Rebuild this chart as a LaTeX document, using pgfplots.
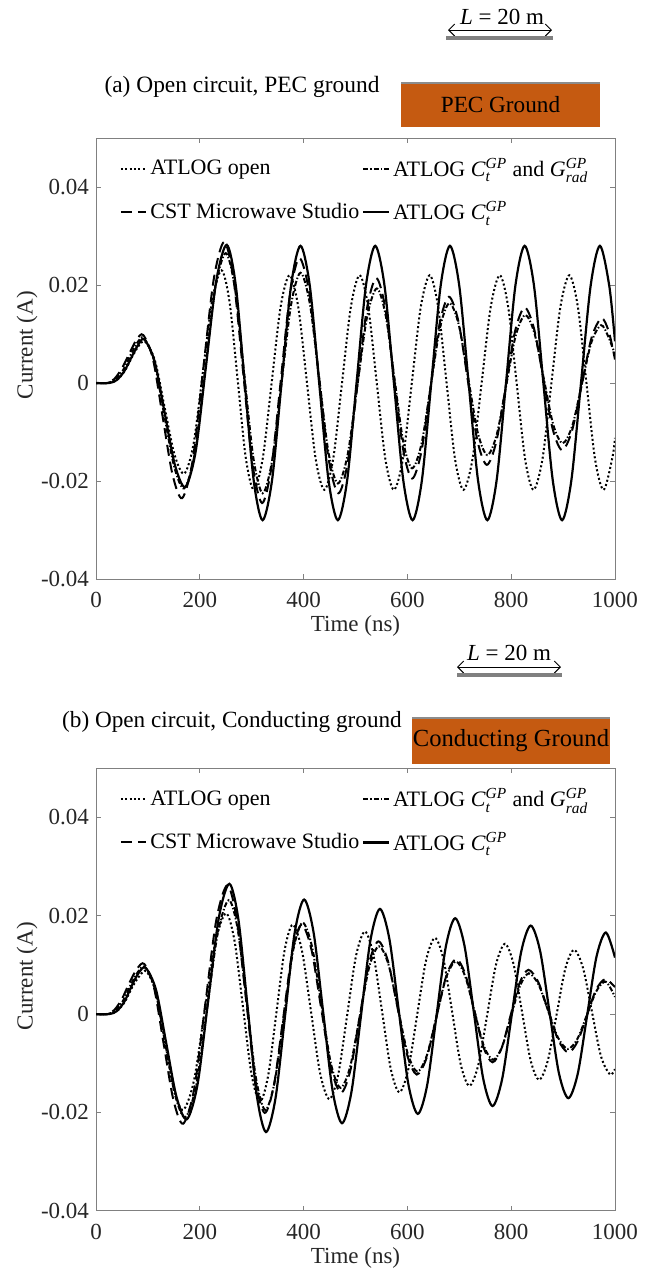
\documentclass[border=0pt]{standalone}
\usepackage{fontspec}
\setmainfont{Liberation Serif}
\usepackage{amsmath}
\usepackage{pgfplots}
\pgfplotsset{compat=1.18}
\usetikzlibrary{arrows.meta}
\definecolor{groundorange}{RGB}{197,90,17}

\pgfplotsset{
  myaxis/.style={
    scale only axis, width=259.5pt,
    xmin=0, xmax=1000, ymin=-0.04, ymax=0.05,
    scaled y ticks=false, scaled x ticks=false,
    xtick={0,200,400,600,800,1000},
    xticklabels={0,200,400,600,800,1000},
    ytick={-0.04,-0.02,0,0.02,0.04},
    yticklabels={-0.04,-0.02,0,0.02,0.04},
    tick align=inside, major tick length=2.5pt,
    axis line style={black!50}, every tick/.style={black!50},
    tick label style={font=\fontsize{11.5}{13.8}\selectfont, text=black!85},
    xticklabel style={yshift=-3pt},
    xlabel={Time (ns)}, ylabel={Current (A)},
    label style={font=\fontsize{11.5}{13.8}\selectfont, text=black!85},
    xlabel style={at={(axis description cs:0.5,0)}, anchor=center, yshift=-23.5pt},
    ylabel style={at={(axis description cs:0,0.53)}, anchor=center, yshift=34.5pt},
    legend columns=2,
    legend cell align=left,
    legend image code/.code={\draw[#1] (0cm,0cm) -- (0.45cm,0cm);},
    legend style={draw=none, fill=none, at={(axis description cs:0.5,1)}, anchor=north, yshift=-6pt,
      font=\fontsize{11}{13.2}\selectfont, row sep=7pt,
      nodes={inner xsep=1.5pt},
      /tikz/every even column/.append style={column sep=0pt}},
  },
  dotS/.style={black, line width=1pt, dash pattern=on 1pt off 1.2pt, smooth},
  dashdotS/.style={black, line width=1pt, dash pattern=on 2.5pt off 1pt on 0.7pt off 1pt, smooth},
  dashS/.style={black, line width=1pt, dash pattern=on 5.5pt off 3pt, smooth},
  solidS/.style={black, line width=1.1pt, solid, smooth},
}

\begin{document}
\begin{tikzpicture}
\useasboundingbox (0pt,0pt) rectangle (328pt,-635.5pt);

\begin{scope}[x=0.5pt,y=-0.5pt]
  % panel (a) annotations
  \node[font=\fontsize{11.5}{13.8}\selectfont] at (502,17) {\textit{L} = 20 m};
  \draw[line width=0.5pt, {Straight Barb[length=3pt,width=6pt]}-{Straight Barb[length=3pt,width=6pt]}] (448,30) -- (552,30);
  \draw[black!50, line width=2pt] (446,38) -- (553,38);
  \node[font=\fontsize{11.7}{14}\selectfont] at (242,87) {(a) Open circuit, PEC ground};
  \fill[groundorange] (401,83) rectangle (600,127);
  \draw[black!45, line width=1pt] (401,83) -- (600,83);
  \node[font=\fontsize{11.6}{14}\selectfont] at (500.5,105) {PEC Ground};
  % panel (b) annotations
  \node[font=\fontsize{11.5}{13.8}\selectfont] at (509,653) {\textit{L} = 20 m};
  \draw[line width=0.5pt, {Straight Barb[length=3pt,width=6pt]}-{Straight Barb[length=3pt,width=6pt]}] (457,667) -- (561,667);
  \draw[black!50, line width=2pt] (457,674.5) -- (562,674.5);
  \node[font=\fontsize{11.6}{14}\selectfont] at (232,722) {(b) Open circuit, Conducting ground};
  \fill[groundorange] (412,718) rectangle (610,764);
  \draw[black!45, line width=1pt] (412,718) -- (610,718);
  \node[font=\fontsize{12.3}{14.5}\selectfont] at (511,741) {Conducting Ground};
\end{scope}

% ---------------- panel (a)
\begin{axis}[myaxis, height=220.5pt, at={(48pt,-289.5pt)}, anchor=south west]
\addplot[dotS] coordinates {
(0,0)(25,0)(40,0.0006)(55,0.0024)(70,0.0054)(83,0.0077)(95,0.0084)
(113.75,0.0045)(132.5,-0.0051)(151.25,-0.0146)(170,-0.0185)
(188,-0.0124)(206,0.0023)(224,0.0169)(242,0.0230)
(257.5,0.0164)(273,0.0006)(288.5,-0.0152)(304,-0.0218)
(321.25,-0.0154)(338.5,0.0001)(355.75,0.0156)(373,0.0220)
(389.75,0.0155)(406.5,0)(423.25,-0.0155)(440,-0.0218)
(457,-0.0155)(474,0)(491,0.0155)(508,0.0220)
(524.5,0.0155)(541,0)(557.5,-0.0155)(574,-0.0218)
(591.25,-0.0155)(608.5,0)(625.75,0.0155)(643,0.0220)
(659.25,0.0155)(675.5,0)(691.75,-0.0155)(708,-0.0218)
(725.5,-0.0155)(743,0)(760.5,0.0155)(778,0.0220)
(794.25,0.0155)(810.5,0)(826.75,-0.0155)(843,-0.0218)
(860.25,-0.0155)(877.5,0)(894.75,0.0155)(912,0.0220)
(928.5,0.0155)(945,0)(961.5,-0.0155)(978,-0.0218)
(995,-0.0152)(1000,-0.0112)
};
\addlegendentry{ATLOG open}
\addplot[dashdotS] coordinates {
(0,0)(22,0)(37,0.0007)(52,0.0026)(67,0.0058)(80,0.0083)(92,0.0092)
(111.5,0.0047)(131,-0.0062)(150.5,-0.0170)(170,-0.0215)
(190,-0.0145)(210,0.0025)(230,0.0195)(250,0.0265)
(267.75,0.0193)(285.5,0.0020)(303.25,-0.0153)(321,-0.0225)
(339.25,-0.0159)(357.5,0)(375.75,0.0159)(394,0.0225)
(412,0.0162)(430,0.0010)(448,-0.0142)(466,-0.0205)
(484.75,-0.0147)(503.5,-0.0006)(522.25,0.0135)(541,0.0193)
(558,0.0139)(575,0.0010)(592,-0.0120)(609,-0.0174)
(627,-0.0125)(645,-0.0006)(663,0.0114)(681,0.0163)
(699.25,0.0118)(717.5,0.0008)(735.75,-0.0102)(754,-0.0147)
(772.25,-0.0105)(790.5,-0.0004)(808.75,0.0097)(827,0.0139)
(845,0.0101)(863,0.0008)(881,-0.0085)(899,-0.0123)
(917.5,-0.0088)(936,-0.0003)(954.5,0.0083)(973,0.0118)
(987,0.0095)(1000,0.0058)
};
\addlegendentry{ATLOG \textit{C}$^{\textit{GP}}_{\textit{t}}$ and \textit{G}$^{\textit{GP}}_{\textit{rad}}$}
\addplot[dashS] coordinates {
(0,0)(20,0)(35,0.0008)(50,0.0030)(65,0.0062)(78,0.0088)(91,0.0098)
(109.75,0.0049)(128.5,-0.0069)(147.25,-0.0186)(166,-0.0235)
(186.25,-0.0158)(206.5,0.0027)(226.75,0.0211)(247,0.0288)
(265.25,0.0210)(283.5,0.0022)(301.75,-0.0167)(320,-0.0245)
(338,-0.0172)(356,0.0005)(374,0.0182)(392,0.0255)
(410.75,0.0185)(429.5,0.0015)(448.25,-0.0155)(467,-0.0225)
(485.25,-0.0161)(503.5,-0.0006)(521.75,0.0150)(540,0.0214)
(557.25,0.0154)(574.5,0.0010)(591.75,-0.0135)(609,-0.0195)
(626.75,-0.0141)(644.5,-0.0010)(662.25,0.0122)(680,0.0176)
(698.25,0.0126)(716.5,0.0005)(734.75,-0.0117)(753,-0.0167)
(771.25,-0.0120)(789.5,-0.0007)(807.75,0.0107)(826,0.0154)
(844,0.0111)(862,0.0009)(880,-0.0094)(898,-0.0137)
(917,-0.0098)(936,-0.0003)(955,0.0093)(974,0.0132)
(988,0.0105)(1000,0.0048)
};
\addlegendentry{CST Microwave Studio}
\addplot[solidS] coordinates {
(0,0)(25,0)(40,0.0006)(55,0.0025)(70,0.0056)(82,0.0079)(93,0.0089)
(112.75,0.0045)(132.5,-0.0062)(152.25,-0.0168)(172,-0.0212)
(192,-0.0140)(212,0.0035)(232,0.0210)(252,0.0282)
(269.25,0.0200)(286.5,0.0001)(303.75,-0.0198)(321,-0.0280)
(339.25,-0.0198)(357.5,0)(375.75,0.0198)(394,0.0280)
(412,0.0198)(430,0)(448,-0.0198)(466,-0.0280)
(484,-0.0198)(502,0)(520,0.0198)(538,0.0280)
(556,0.0198)(574,0)(592,-0.0198)(610,-0.0280)
(628,-0.0198)(646,0)(664,0.0198)(682,0.0280)
(700,0.0198)(718,0)(736,-0.0198)(754,-0.0280)
(772,-0.0198)(790,0)(808,0.0198)(826,0.0280)
(844,0.0198)(862,0)(880,-0.0198)(898,-0.0280)
(916,-0.0198)(934.5,0)(953,0.0198)(971,0.0280)
(989,0.0198)(1000,0.0085)
};
\addlegendentry{ATLOG \textit{C}$^{\textit{GP}}_{\textit{t}}$}
\end{axis}

% ---------------- panel (b)
\begin{axis}[myaxis, height=221.2pt, at={(48pt,-605.35pt)}, anchor=south west]
\addplot[dotS] coordinates {
(0,0)(25,0)(40,0.0006)(55,0.0024)(70,0.0055)(84,0.0078)(97,0.0087)
(114.75,0.0046)(132.5,-0.0054)(150.25,-0.0154)(168,-0.0195)
(188.6,-0.0136)(209.25,0.0005)(229.9,0.0146)(250.5,0.0205)
(266.9,0.0149)(283.25,0.0014)(299.6,-0.0122)(316,-0.0178)
(331.75,-0.0125)(347.5,0.0002)(363.25,0.0129)(379,0.0182)
(396.65,0.0130)(414.3,0.0005)(431.95,-0.0121)(449.6,-0.0173)
(466.7,-0.0123)(483.8,-0.0003)(500.9,0.0118)(518,0.0168)
(534.6,0.0120)(551.25,0.0005)(567.9,-0.0111)(584.5,-0.0159)
(601.6,-0.0113)(618.75,-0.0002)(635.9,0.0109)(653,0.0155)
(669.6,0.0111)(686.15,0.0005)(702.7,-0.0102)(719.3,-0.0146)
(736.5,-0.0104)(753.65,-0.0002)(770.8,0.0101)(788,0.0143)
(804.4,0.0102)(820.8,0.0005)(837.2,-0.0093)(853.6,-0.0134)
(870.45,-0.0095)(887.3,-0.0002)(904.15,0.0092)(921,0.0131)
(938.35,0.0094)(955.7,0.0004)(973.05,-0.0086)(990.4,-0.0123)
(1000,-0.0112)
};
\addlegendentry{ATLOG open}
\addplot[dashdotS] coordinates {
(0,0)(22,0)(37,0.0007)(52,0.0027)(67,0.0060)(81,0.0086)(94,0.0096)
(113.5,0.0051)(133,-0.0057)(152.5,-0.0165)(172,-0.0210)
(193,-0.0145)(214,0.0011)(235,0.0167)(256,0.0232)
(273.5,0.0170)(291,0.0019)(308.5,-0.0132)(326,-0.0195)
(344,-0.0139)(362,-0.0005)(380,0.0130)(398,0.0186)
(416.25,0.0137)(434.5,0.0018)(452.75,-0.0101)(471,-0.0150)
(489.5,-0.0108)(508,-0.0006)(526.5,0.0096)(545,0.0138)
(563.5,0.0101)(582,0.0011)(600.5,-0.0080)(619,-0.0117)
(637.5,-0.0084)(656,-0.0005)(674.5,0.0074)(693,0.0107)
(711,0.0078)(729,0.0007)(747,-0.0064)(765,-0.0093)
(782.25,-0.0067)(799.5,-0.0005)(816.75,0.0057)(834,0.0083)
(852.75,0.0060)(871.5,0.0006)(890.25,-0.0048)(909,-0.0071)
(927.25,-0.0051)(945.5,-0.0003)(963.75,0.0046)(982,0.0066)
(1000,0.0035)
};
\addlegendentry{ATLOG \textit{C}$^{\textit{GP}}_{\textit{t}}$ and \textit{G}$^{\textit{GP}}_{\textit{rad}}$}
\addplot[dashS] coordinates {
(0,0)(20,0)(35,0.0008)(50,0.0031)(65,0.0065)(79,0.0092)(93,0.0102)
(111.75,0.0054)(130.5,-0.0061)(149.25,-0.0175)(168,-0.0223)
(189.25,-0.0152)(210.5,0.0020)(231.75,0.0191)(253,0.0262)
(271,0.0194)(289,0.0031)(307,-0.0133)(325,-0.0201)
(342.75,-0.0145)(360.5,-0.0010)(378.25,0.0126)(396,0.0182)
(415,0.0132)(434,0.0011)(453,-0.0110)(472,-0.0160)
(490,-0.0115)(508,-0.0006)(526,0.0103)(544,0.0148)
(562.5,0.0108)(581,0.0013)(599.5,-0.0083)(618,-0.0123)
(637,-0.0089)(656,-0.0006)(675,0.0078)(694,0.0112)
(711.5,0.0081)(729,0.0007)(746.5,-0.0067)(764,-0.0098)
(781.25,-0.0070)(798.5,-0.0004)(815.75,0.0062)(833,0.0090)
(852.25,0.0065)(871.5,0.0006)(890.75,-0.0053)(910,-0.0078)
(927.75,-0.0056)(945.5,-0.0004)(963.25,0.0049)(981,0.0071)
(1000,0.0055)
};
\addlegendentry{CST Microwave Studio}
\addplot[solidS] coordinates {
(0,0)(25,0)(40,0.0006)(55,0.0026)(70,0.0060)(83,0.0085)(96,0.0094)
(115.75,0.0049)(135.5,-0.0060)(155.25,-0.0169)(175,-0.0214)
(195.5,-0.0144)(216,0.0026)(236.5,0.0195)(257,0.0265)
(274.6,0.0191)(292.25,0.0013)(309.9,-0.0166)(327.5,-0.0240)
(345.9,-0.0171)(364.25,-0.0004)(382.6,0.0164)(401,0.0233)
(419.25,0.0166)(437.5,0.0006)(455.75,-0.0155)(474,-0.0222)
(492.25,-0.0158)(510.5,-0.0004)(528.75,0.0150)(547,0.0214)
(565.25,0.0153)(583.5,0.0006)(601.75,-0.0142)(620,-0.0203)
(638,-0.0145)(656,-0.0004)(674,0.0137)(692,0.0195)
(710,0.0139)(728,0.0004)(746,-0.0131)(764,-0.0187)
(782.4,-0.0133)(800.75,-0.0004)(819.1,0.0126)(837.5,0.0180)
(855.6,0.0129)(873.75,0.0005)(891.9,-0.0120)(910,-0.0171)
(928.1,-0.0122)(946.25,-0.0003)(964.4,0.0117)(982.5,0.0166)
(1000,0.0115)
};
\addlegendentry{ATLOG \textit{C}$^{\textit{GP}}_{\textit{t}}$}
\end{axis}
\end{tikzpicture}
\end{document}
